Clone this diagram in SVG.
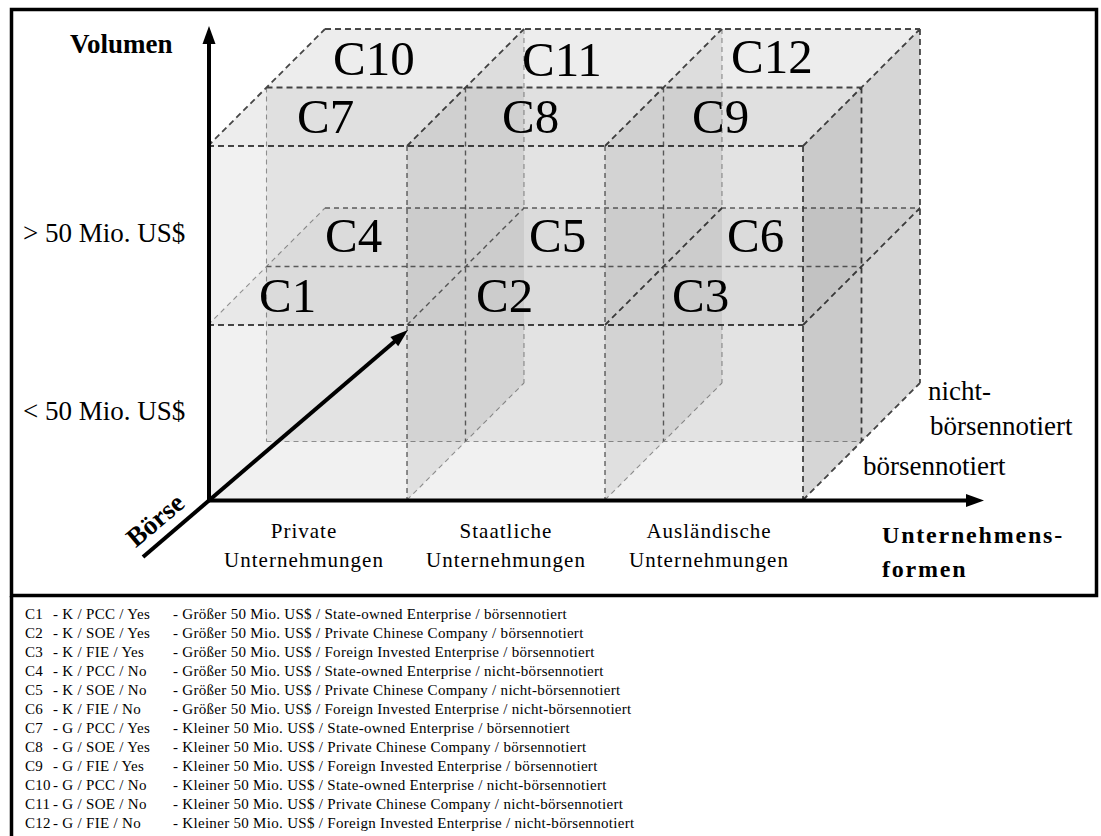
<svg xmlns="http://www.w3.org/2000/svg" width="1101" height="836" viewBox="0 0 1101 836">
<style>
.fr{fill:#000;fill-opacity:0.055}
.tp{fill:#000;fill-opacity:0.07}
.tl{fill:#000;fill-opacity:0.035}
.ri{fill:#000;fill-opacity:0.065}
.re{fill:#000;fill-opacity:0.16}
.e1{fill:none;stroke:#4a4a4a;stroke-width:1.8;stroke-dasharray:6 4}
.e2{fill:none;stroke:#6a6a6a;stroke-width:1.4;stroke-dasharray:5 4}
.e3{fill:none;stroke:#9c9c9c;stroke-width:1.1;stroke-dasharray:5 4}
.cell{font-family:"Liberation Serif",serif;font-size:49px;fill:#000}
.ax{font-family:"Liberation Serif",serif;font-size:27px;fill:#000}
.axb{font-family:"Liberation Serif",serif;font-size:27px;font-weight:bold;fill:#000}
.cat{font-family:"Liberation Serif",serif;font-size:21px;letter-spacing:1px;fill:#000;text-anchor:middle}
.leg{font-family:"Liberation Serif",serif;font-size:15px;letter-spacing:0.3px;fill:#000}
.axis{stroke:#000;stroke-width:4;fill:none}
</style>
<rect x="0" y="0" width="1101" height="836" fill="#fff"/>
<g id="frame">
<rect x="11.5" y="9.5" width="1085" height="586" fill="none" stroke="#000" stroke-width="3.5"/>
<line x1="11.5" y1="596" x2="11.5" y2="836" stroke="#000" stroke-width="3.5"/>
</g>
<g id="grid-edges">
<path class="e3" d="M266.5,87.5V441.5 M266.5,441.5H861.5 M208,325L325,208 M524,29V208 M524,325V383 M722,29V208 M722,325V383 M407,500L524,383 M605,500L722,383"/>
<path class="e2" d="M266.5,266.5H861.5 M325,208H920 M407,325L524,208 M465.5,87.5V441.5 M663.5,87.5V441.5 M407,146V500 M605,146V500"/>
<path class="e1" d="M325,29H920 M266.5,87.5H861.5 M208,146H803 M208,146L325,29 M407,146L524,29 M605,146L722,29 M803,146L920,29 M920,29V383 M861.5,87.5V441.5 M803,146V500 M208,325H803 M803,325L920,208 M605,325L722,208 M803,500L920,383"/>
</g>
<g id="C4">
<rect class="fr" x="266.5" y="266.5" width="199" height="175"/>
<polygon class="tl" points="266.5,266.5 325,208 524,208 465.5,266.5"/>
<polygon class="ri" points="465.5,441.5 465.5,266.5 524,208 524,383"/>
<text class="cell" x="325" y="252">C4</text>
</g>
<g id="C5">
<rect class="fr" x="465.5" y="266.5" width="198" height="175"/>
<polygon class="tl" points="465.5,266.5 524,208 722,208 663.5,266.5"/>
<polygon class="ri" points="663.5,441.5 663.5,266.5 722,208 722,383"/>
<text class="cell" x="529" y="252">C5</text>
</g>
<g id="C6">
<rect class="fr" x="663.5" y="266.5" width="198" height="175"/>
<polygon class="tl" points="663.5,266.5 722,208 920,208 861.5,266.5"/>
<polygon class="re" points="861.5,441.5 861.5,266.5 920,208 920,383"/>
<text class="cell" x="727" y="252">C6</text>
</g>
<g id="C10">
<rect class="fr" x="266.5" y="87.5" width="199" height="179"/>
<polygon class="tp" points="266.5,87.5 325,29 524,29 465.5,87.5"/>
<polygon class="ri" points="465.5,266.5 465.5,87.5 524,29 524,208"/>
<text class="cell" x="333" y="75">C10</text>
</g>
<g id="C11">
<rect class="fr" x="465.5" y="87.5" width="198" height="179"/>
<polygon class="tp" points="465.5,87.5 524,29 722,29 663.5,87.5"/>
<polygon class="ri" points="663.5,266.5 663.5,87.5 722,29 722,208"/>
<text class="cell" x="522" y="76">C11</text>
</g>
<g id="C12">
<rect class="fr" x="663.5" y="87.5" width="198" height="179"/>
<polygon class="tp" points="663.5,87.5 722,29 920,29 861.5,87.5"/>
<polygon class="re" points="861.5,266.5 861.5,87.5 920,29 920,208"/>
<text class="cell" x="731" y="73">C12</text>
</g>
<g id="C1">
<rect class="fr" x="208" y="325" width="199" height="175"/>
<polygon class="tl" points="208,325 266.5,266.5 465.5,266.5 407,325"/>
<polygon class="ri" points="407,500 407,325 465.5,266.5 465.5,441.5"/>
<text class="cell" x="259" y="312">C1</text>
</g>
<g id="C2">
<rect class="fr" x="407" y="325" width="198" height="175"/>
<polygon class="tl" points="407,325 465.5,266.5 663.5,266.5 605,325"/>
<polygon class="ri" points="605,500 605,325 663.5,266.5 663.5,441.5"/>
<text class="cell" x="476" y="312">C2</text>
</g>
<g id="C3">
<rect class="fr" x="605" y="325" width="198" height="175"/>
<polygon class="tl" points="605,325 663.5,266.5 861.5,266.5 803,325"/>
<polygon class="re" points="803,500 803,325 861.5,266.5 861.5,441.5"/>
<text class="cell" x="672" y="312">C3</text>
</g>
<g id="C7">
<rect class="fr" x="208" y="146" width="199" height="179"/>
<polygon class="tp" points="208,146 266.5,87.5 465.5,87.5 407,146"/>
<polygon class="ri" points="407,325 407,146 465.5,87.5 465.5,266.5"/>
<text class="cell" x="297" y="133">C7</text>
</g>
<g id="C8">
<rect class="fr" x="407" y="146" width="198" height="179"/>
<polygon class="tp" points="407,146 465.5,87.5 663.5,87.5 605,146"/>
<polygon class="ri" points="605,325 605,146 663.5,87.5 663.5,266.5"/>
<text class="cell" x="502" y="133">C8</text>
</g>
<g id="C9">
<rect class="fr" x="605" y="146" width="198" height="179"/>
<polygon class="tp" points="605,146 663.5,87.5 861.5,87.5 803,146"/>
<polygon class="re" points="803,325 803,146 861.5,87.5 861.5,266.5"/>
<text class="cell" x="692" y="133">C9</text>
</g>
<g id="connectors">
<line class="axis" x1="209" y1="502" x2="209" y2="40"/>
<polygon points="209,26 202.5,44 215.5,44" fill="#000"/>
<line class="axis" x1="207" y1="500.5" x2="968" y2="500.5"/>
<polygon points="984,500.5 966,494 966,507" fill="#000"/>
<line class="axis" x1="143" y1="557" x2="397" y2="339.5"/>
<polygon points="408,330 398.2,346.3 390.4,337.1" fill="#000"/>
</g>
<g id="labels">
<text class="axb" x="70" y="53">Volumen</text>
<text class="ax" x="23" y="242">&gt; 50 Mio. US$</text>
<text class="ax" x="23" y="420">&lt; 50 Mio. US$</text>
<text class="axb" font-size="26" x="161" y="527" text-anchor="middle" transform="rotate(-40 161 527)">Börse</text>
<text class="cat" x="304" y="538">Private</text>
<text class="cat" x="304" y="567">Unternehmungen</text>
<text class="cat" x="506" y="538">Staatliche</text>
<text class="cat" x="506" y="567">Unternehmungen</text>
<text class="cat" x="709" y="538">Ausländische</text>
<text class="cat" x="709" y="567">Unternehmungen</text>
<text class="axb" x="882" y="543" style="font-size:24px;letter-spacing:1.8px">Unternehmens-</text>
<text class="axb" x="882" y="577" style="font-size:24px;letter-spacing:1.8px">formen</text>
<text class="ax" x="928" y="400">nicht-</text>
<text class="ax" x="930" y="435">börsennotiert</text>
<text class="ax" x="863" y="475">börsennotiert</text>
</g>
<g id="legend">
<text class="leg" x="25" y="619">C1</text><text class="leg" x="53" y="619">- K / PCC / Yes</text><text class="leg" x="173" y="619">- Größer 50 Mio. US$ / State-owned Enterprise / börsennotiert</text>
<text class="leg" x="25" y="638">C2</text><text class="leg" x="53" y="638">- K / SOE / Yes</text><text class="leg" x="173" y="638">- Größer 50 Mio. US$ / Private Chinese Company / börsennotiert</text>
<text class="leg" x="25" y="657">C3</text><text class="leg" x="53" y="657">- K / FIE / Yes</text><text class="leg" x="173" y="657">- Größer 50 Mio. US$ / Foreign Invested Enterprise / börsennotiert</text>
<text class="leg" x="25" y="676">C4</text><text class="leg" x="53" y="676">- K / PCC / No</text><text class="leg" x="173" y="676">- Größer 50 Mio. US$ / State-owned Enterprise / nicht-börsennotiert</text>
<text class="leg" x="25" y="695">C5</text><text class="leg" x="53" y="695">- K / SOE / No</text><text class="leg" x="173" y="695">- Größer 50 Mio. US$ / Private Chinese Company / nicht-börsennotiert</text>
<text class="leg" x="25" y="714">C6</text><text class="leg" x="53" y="714">- K / FIE / No</text><text class="leg" x="173" y="714">- Größer 50 Mio. US$ / Foreign Invested Enterprise / nicht-börsennotiert</text>
<text class="leg" x="25" y="733">C7</text><text class="leg" x="53" y="733">- G / PCC / Yes</text><text class="leg" x="173" y="733">- Kleiner 50 Mio. US$ / State-owned Enterprise / börsennotiert</text>
<text class="leg" x="25" y="752">C8</text><text class="leg" x="53" y="752">- G / SOE / Yes</text><text class="leg" x="173" y="752">- Kleiner 50 Mio. US$ / Private Chinese Company / börsennotiert</text>
<text class="leg" x="25" y="771">C9</text><text class="leg" x="53" y="771">- G / FIE / Yes</text><text class="leg" x="173" y="771">- Kleiner 50 Mio. US$ / Foreign Invested Enterprise / börsennotiert</text>
<text class="leg" x="25" y="790">C10</text><text class="leg" x="53" y="790">- G / PCC / No</text><text class="leg" x="173" y="790">- Kleiner 50 Mio. US$ / State-owned Enterprise / nicht-börsennotiert</text>
<text class="leg" x="25" y="809">C11</text><text class="leg" x="53" y="809">- G / SOE / No</text><text class="leg" x="173" y="809">- Kleiner 50 Mio. US$ / Private Chinese Company / nicht-börsennotiert</text>
<text class="leg" x="25" y="828">C12</text><text class="leg" x="53" y="828">- G / FIE / No</text><text class="leg" x="173" y="828">- Kleiner 50 Mio. US$ / Foreign Invested Enterprise / nicht-börsennotiert</text>
</g>
</svg>
